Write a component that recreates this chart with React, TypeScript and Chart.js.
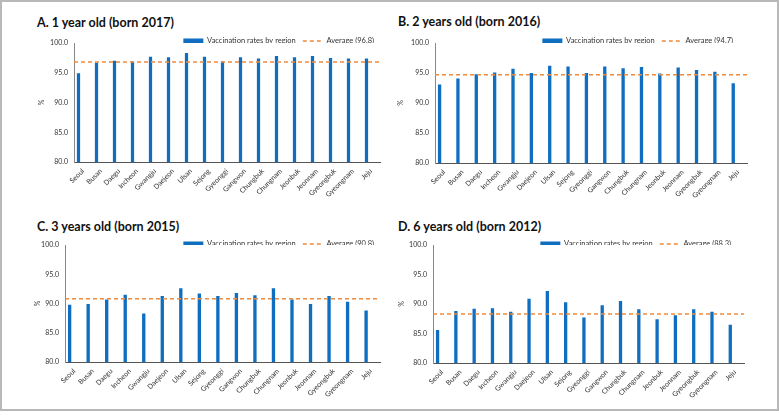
import React, { useEffect, useRef } from 'react';
import { Chart, registerables } from 'chart.js';

Chart.register(...registerables);

// ---------- data ----------
const regions = [
  'Seoul', 'Busan', 'Daegu', 'Incheon', 'Gwangju', 'Daejeon', 'Ulsan', 'Sejong', 'Gyeonggi',
  'Gangwon', 'Chungbuk', 'Chungnam', 'Jeonbuk', 'Jeonnam', 'Gyeongbuk', 'Gyeongnam', 'Jeju',
];

const rates1yr = [94.9, 96.7, 97.0, 96.9, 97.7, 97.6, 98.3, 97.7, 96.9, 97.6, 97.4, 97.8, 97.6, 97.8, 97.5, 97.4, 97.4];
const rates2yr = [93.1, 94.1, 94.8, 95.1, 95.7, 95.0, 96.2, 96.1, 95.0, 96.1, 95.8, 96.0, 94.9, 95.9, 95.5, 95.2, 93.3];
const rates3yr = [89.8, 89.9, 90.7, 91.5, 88.3, 91.3, 92.6, 91.7, 91.3, 91.8, 91.4, 92.6, 90.7, 89.9, 91.3, 90.3, 88.8];
const rates6yr = [85.6, 88.8, 89.2, 89.3, 88.7, 90.9, 92.2, 90.3, 87.7, 89.8, 90.5, 89.1, 87.4, 88.1, 89.1, 88.7, 86.5];

const averages = [96.8, 94.7, 90.8, 88.3];
const panelTitles = [
  'A. 1 year old (born 2017)',
  'B. 2 years old (born 2016)',
  'C. 3 years old (born 2015)',
  'D. 6 years old (born 2012)',
];
const seriesLabel = 'Vaccination rates by region';
const yMin = 80;
const yMax = 100;
const yStep = 5;
const yTitle = '%';

// ---------- styles / layout ----------
const BLUE = '#0f6ec0';
const ORANGE = '#ee8a3c';
const FONT = "Lato, 'Open Sans', sans-serif";
const TICK_SIZE = 7;
const LEGEND_SIZE = 7.5;
const LEGEND_PAD = 7;

type Layout = {
  box: { left: number; top: number; width: number; height: number };
  plot: { left: number; right: number; top: number; bottom: number };
  pctX: number;
  legendY: number;
  legendEnd: number;
  titleX: number;
  titleY: number;
};

const layouts: Layout[] = [
  { box: { left: 0, top: 24, width: 390, height: 186 }, plot: { left: 72, right: 378, top: 41, bottom: 160 }, pctX: 40, legendY: 39, legendEnd: 372, titleX: 35, titleY: 21 },
  { box: { left: 390, top: 24, width: 389, height: 187 }, plot: { left: 433, right: 745, top: 41, bottom: 161 }, pctX: 399, legendY: 39, legendEnd: 731, titleX: 396, titleY: 20 },
  { box: { left: 0, top: 226, width: 390, height: 182 }, plot: { left: 63, right: 378, top: 243, bottom: 360 }, pctX: 36, legendY: 242, legendEnd: 372, titleX: 35, titleY: 225 },
  { box: { left: 390, top: 226, width: 389, height: 183 }, plot: { left: 431, right: 742, top: 243, bottom: 361 }, pctX: 400, legendY: 242, legendEnd: 729, titleX: 396, titleY: 225 },
];

const seriesList = [rates1yr, rates2yr, rates3yr, rates6yr];

function Panel({ index }: { index: number }) {
  const ref = useRef<HTMLCanvasElement>(null);
  const L = layouts[index];
  useEffect(() => {
    if (!ref.current) return;
    const values = seriesList[index];
    const avg = averages[index];
    const w = L.box.width;
    const h = L.box.height;
    const titleHalf = (TICK_SIZE * 1.2) / 2;
    const padLeft = L.pctX - L.box.left - titleHalf;
    const yW = L.plot.left - L.box.left - padLeft;
    const padRight = L.box.left + w - L.plot.right;
    const padTop = L.plot.top - L.box.top;
    const xH = L.box.top + h - L.plot.bottom;

    const legendPlacer = {
      id: 'legendPlacer',
      beforeDraw(chart: any) {
        const lg = chart.legend;
        if (!lg) return;
        lg.top = L.legendY - L.box.top - LEGEND_PAD - LEGEND_SIZE / 2;
        lg.right = L.legendEnd - L.box.left + LEGEND_PAD;
      },
    };

    const chart = new Chart(ref.current, {
      type: 'bar',
      data: {
        labels: regions,
        datasets: [
          {
            type: 'bar',
            label: seriesLabel,
            data: values,
            backgroundColor: BLUE,
            barPercentage: 0.36,
            categoryPercentage: 1,
            xAxisID: 'x',
            yAxisID: 'y',
            order: 1,
          } as any,
          {
            type: 'line',
            label: `Average (${avg.toFixed(1)})`,
            data: [avg, avg],
            xAxisID: 'x2',
            yAxisID: 'y',
            borderColor: ORANGE,
            borderWidth: 1.5,
            borderDash: [4, 3],
            pointRadius: 0,
            fill: false,
            order: 0,
          } as any,
        ],
      },
      options: {
        responsive: false,
        animation: false,
        layout: { padding: { left: padLeft, right: padRight, top: padTop, bottom: 0 } },
        plugins: {
          tooltip: { enabled: false },
          legend: {
            position: 'top',
            align: 'end',
            maxHeight: 0.001,
            labels: {
              usePointStyle: true,
              pointStyleWidth: 20,
              boxHeight: 5,
              padding: LEGEND_PAD,
              color: '#333',
              font: { family: FONT, size: LEGEND_SIZE },
              generateLabels: () => [
                {
                  text: seriesLabel,
                  fillStyle: BLUE,
                  strokeStyle: BLUE,
                  lineWidth: 0,
                  pointStyle: 'rect',
                  hidden: false,
                  datasetIndex: 0,
                  fontColor: '#333',
                },
                {
                  text: `Average (${avg.toFixed(1)})`,
                  fillStyle: 'rgba(0,0,0,0)',
                  strokeStyle: ORANGE,
                  lineWidth: 1.5,
                  lineDash: [4, 3],
                  pointStyle: 'line',
                  hidden: false,
                  datasetIndex: 1,
                  fontColor: '#333',
                },
              ],
            },
          } as any,
        },
        scales: {
          x: {
            type: 'category',
            grid: { display: false, drawTicks: false },
            border: { color: '#555', width: 1 },
            ticks: {
              autoSkip: false,
              minRotation: 45,
              maxRotation: 45,
              padding: 5,
              color: '#333',
              font: { family: FONT, size: TICK_SIZE },
            },
            afterFit: (s: any) => { s.height = xH; },
          },
          x2: {
            type: 'category',
            labels: ['start', 'end'],
            offset: false,
            display: false,
          },
          y: {
            min: yMin,
            max: yMax,
            grid: { display: false, drawTicks: false },
            border: { color: '#888', width: 1 },
            ticks: {
              stepSize: yStep,
              padding: 6,
              color: '#333',
              font: { family: FONT, size: TICK_SIZE },
              callback: (v: any) => Number(v).toFixed(1),
            },
            title: {
              display: true,
              text: yTitle,
              padding: 0,
              color: '#333',
              font: { family: FONT, size: TICK_SIZE },
            },
            afterFit: (s: any) => { s.width = yW; },
          },
        } as any,
      },
      plugins: [legendPlacer],
    });
    return () => chart.destroy();
  }, [index]);

  return (
    <>
      <div
        style={{
          position: 'absolute',
          left: L.titleX,
          top: L.titleY - 7,
          fontFamily: FONT,
          fontWeight: 700,
          fontSize: 12.5,
          lineHeight: '14px',
          color: '#111',
          whiteSpace: 'nowrap',
        }}
      >
        {panelTitles[index]}
      </div>
      <canvas
        ref={ref}
        width={L.box.width}
        height={L.box.height}
        style={{ position: 'absolute', left: L.box.left, top: L.box.top, width: L.box.width, height: L.box.height }}
      />
    </>
  );
}

export default function App() {
  return (
    <div
      style={{
        position: 'absolute',
        left: 0,
        top: 0,
        width: 779,
        height: 411,
        boxSizing: 'border-box',
        border: '2px solid #b8b8b8',
        background: '#fff',
      }}
    >
      {[0, 1, 2, 3].map((i) => (
        <Panel key={i} index={i} />
      ))}
    </div>
  );
}
